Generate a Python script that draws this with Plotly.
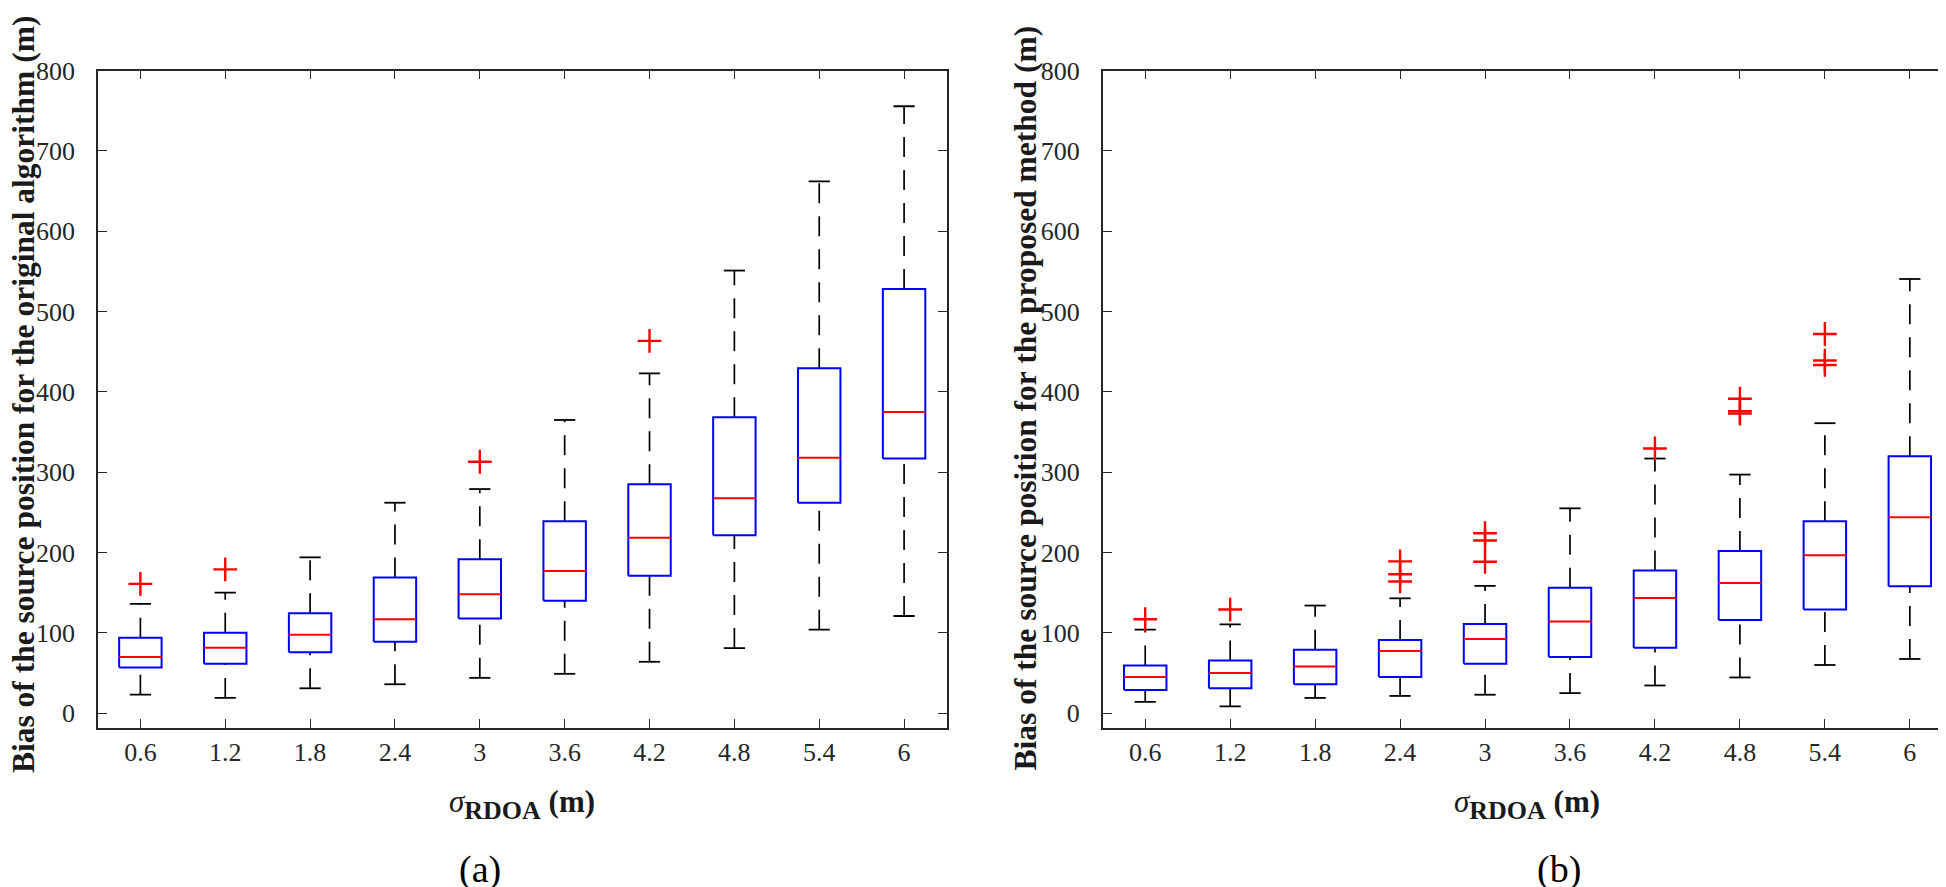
import plotly.graph_objects as go

# ---------------- data ----------------
sigma_labels = ["0.6", "1.2", "1.8", "2.4", "3", "3.6", "4.2", "4.8", "5.4", "6"]
y_ticks = [0, 100, 200, 300, 400, 500, 600, 700, 800]

# (a) original algorithm
a_lower = [23, 19, 31, 36, 44, 49, 64, 81, 104, 121]
a_q1 = [57, 61.5, 76, 89, 118, 140, 171, 221.5, 262, 317]
a_median = [70, 81.5, 97.5, 117, 148, 177, 218.5, 267.5, 318, 375]
a_q3 = [94, 100, 124.5, 169, 191.5, 239, 285, 368.5, 429.5, 528]
a_upper = [136, 150, 194, 262, 279, 365, 423, 551, 662, 755.5]
a_outliers = [[161], [179], [], [], [313], [], [463.5], [], [], []]

# (b) proposed method
b_lower = [14, 8.5, 19, 21.5, 23, 25, 34.5, 44.5, 60, 67.5]
b_q1 = [29, 31, 36, 45, 61.5, 70, 81.5, 116, 129, 158]
b_median = [45, 50, 58, 77.5, 92.5, 114, 143.5, 162, 196.5, 244]
b_q3 = [59.5, 65.5, 79, 91, 111, 156, 177.5, 202, 239, 320]
b_upper = [104, 110.5, 134, 143, 158.5, 255, 317, 297, 361, 540.5]
b_outliers = [[117], [129], [], [164, 173, 189], [188.5, 215, 224], [], [329.5],
              [373, 376, 391.5], [433.5, 439, 472], []]

y_title_a = "Bias of the source position for the original algorithm (m)"
y_title_b = "Bias of the source position for the proposed method (m)"

# ---------------- style ----------------
W, H = 1946, 887
BOX_HW = 0.25
CAP_HW = 0.125
FONT = "Liberation Serif"
AX_COL = "#262626"

fig = go.Figure()


def add_panel(xa, ya, lower, q1, med, q3, upper, outl):
    pos = list(range(1, len(sigma_labels) + 1))
    bx, by, mx, my, wx, wy, cx, cy, ox, oy = [], [], [], [], [], [], [], [], [], []
    for i, p in enumerate(pos):
        bx += [p - BOX_HW, p + BOX_HW, p + BOX_HW, p - BOX_HW, p - BOX_HW, None]
        by += [q1[i], q1[i], q3[i], q3[i], q1[i], None]
        mx += [p - BOX_HW, p + BOX_HW, None]
        my += [med[i], med[i], None]
        wx += [p, p, None, p, p, None]
        wy += [q3[i], upper[i], None, lower[i], q1[i], None]
        cx += [p - CAP_HW, p + CAP_HW, None, p - CAP_HW, p + CAP_HW, None]
        cy += [upper[i], upper[i], None, lower[i], lower[i], None]
        for v in outl[i]:
            ox.append(p)
            oy.append(v)
    common = dict(xaxis=xa, yaxis=ya, showlegend=False, hoverinfo="skip")
    fig.add_trace(go.Scatter(x=wx, y=wy, mode="lines",
                             line=dict(color="black", width=1.7, dash="20px,13px"), **common))
    fig.add_trace(go.Scatter(x=cx, y=cy, mode="lines",
                             line=dict(color="black", width=1.8), **common))
    fig.add_trace(go.Scatter(x=bx, y=by, mode="lines",
                             line=dict(color="#0000ff", width=2), **common))
    fig.add_trace(go.Scatter(x=mx, y=my, mode="lines",
                             line=dict(color="#ff0000", width=2), **common))
    fig.add_trace(go.Scatter(x=ox, y=oy, mode="markers",
                             marker=dict(symbol="cross-thin", size=17, color="#ff0000",
                                         line=dict(color="#ff0000", width=2.4)), **common))


add_panel("x", "y", a_lower, a_q1, a_median, a_q3, a_upper, a_outliers)
add_panel("x2", "y2", b_lower, b_q1, b_median, b_q3, b_upper, b_outliers)

y_top = 1 - 49.3 / H
y_bot = 1 - 717.3 / H

xaxis_common = dict(
    range=[0.5, 10.5], tickmode="array", tickvals=list(range(1, 11)), ticktext=sigma_labels,
    ticks="inside", ticklen=9, tickwidth=1.3, tickcolor=AX_COL,
    showline=True, linecolor=AX_COL, linewidth=1.6, mirror="ticks",
    showgrid=False, zeroline=False,
    tickfont=dict(family=FONT, size=26, color=AX_COL), ticklabelstandoff=0,
)
yaxis_common = dict(
    range=[-18.4, 800], tickmode="array", tickvals=y_ticks,
    ticks="inside", ticklen=9, tickwidth=1.3, tickcolor=AX_COL,
    showline=True, linecolor=AX_COL, linewidth=1.6, mirror="ticks",
    showgrid=False, zeroline=False,
    tickfont=dict(family=FONT, size=26, color=AX_COL), ticklabelstandoff=16,
    domain=[y_bot, y_top],
)

fig.update_layout(
    width=W, height=H, margin=dict(l=0, r=0, t=0, b=0),
    paper_bgcolor="white", plot_bgcolor="white",
    xaxis=dict(domain=[90 / W, 939 / W], anchor="y", **xaxis_common),
    yaxis=dict(anchor="x", **yaxis_common),
    xaxis2=dict(domain=[1095.3 / W, 1945.3 / W], anchor="y2", **xaxis_common),
    yaxis2=dict(anchor="x2", **yaxis_common),
)

xtitle = ("<i>σ</i><sub><b><span style='font-size:26px'>RDOA</span></b></sub>"
          " <b>(m)</b>")
ann = []
for cxp, lab, lx in [(514.5, "(a)", 472), (1520, "(b)", 1552)]:
    ann.append(dict(x=cxp / W, y=1 - 795 / H, xref="paper", yref="paper", text=xtitle,
                    showarrow=False, xanchor="center", yanchor="middle",
                    font=dict(family=FONT, size=31, color="#1a1a1a")))
    ann.append(dict(x=lx / W, y=1 - 861 / H, xref="paper", yref="paper", text=lab,
                    showarrow=False, xanchor="center", yanchor="middle",
                    font=dict(family=FONT, size=38, color="black")))
ann.append(dict(x=15 / W, y=1 - 378 / H, xref="paper", yref="paper",
                text="<b>" + y_title_a + "</b>", textangle=-90, showarrow=False,
                xanchor="center", yanchor="middle",
                font=dict(family=FONT, size=31.5, color="#1a1a1a")))
ann.append(dict(x=1018 / W, y=1 - 382 / H, xref="paper", yref="paper",
                text="<b>" + y_title_b + "</b>", textangle=-90, showarrow=False,
                xanchor="center", yanchor="middle",
                font=dict(family=FONT, size=31.5, color="#1a1a1a")))
fig.update_layout(annotations=ann)

fig.write_html("out.html")
